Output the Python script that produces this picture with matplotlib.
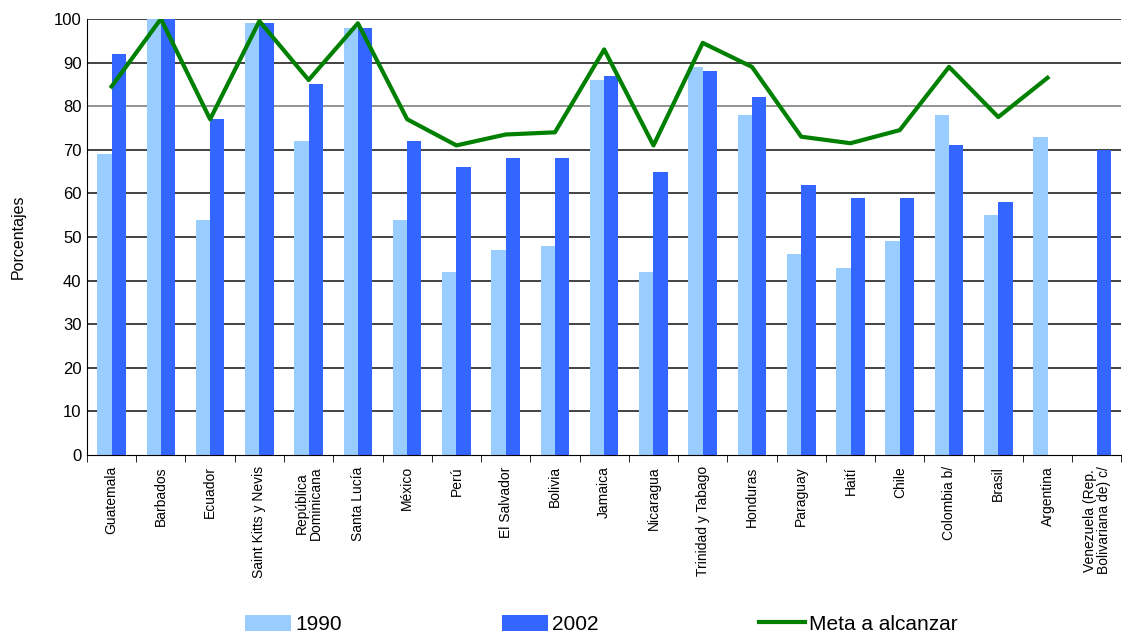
import matplotlib.pyplot as plt
import numpy as np

plt.rcParams['font.family'] = ['Liberation Sans', 'DejaVu Sans']

countries = ["Guatemala", "Barbados", "Ecuador", "Saint Kitts y Nevis",
             "República\nDominicana", "Santa Lucía", "México", "Perú",
             "El Salvador", "Bolivia", "Jamaica", "Nicaragua",
             "Trinidad y Tabago", "Honduras", "Paraguay", "Haití", "Chile",
             "Colombia b/", "Brasil", "Argentina",
             "Venezuela (Rep.\nBolivariana de) c/"]
v1990 = [69, 100, 54, 99, 72, 98, 54, 42, 47, 48, 86, 42, 89, 78, 46, 43, 49,
         78, 55, 73, np.nan]
v2002 = [92, 100, 77, 99, 85, 98, 72, 66, 68, 68, 87, 65, 88, 82, 62, 59, 59,
         71, 58, np.nan, 70]
meta = [84.5, 100, 77, 99.5, 86, 99, 77, 71, 73.5, 74, 93, 71, 94.5, 89, 73,
        71.5, 74.5, 89, 77.5, 86.5, np.nan]

x = np.arange(len(countries))
w = 0.29

fig = plt.figure(figsize=(11.22, 6.41), dpi=100)
ax = fig.add_axes([0.0775, 0.29, 0.922, 0.6805])

for yv in range(10, 101, 10):
    ax.axhline(yv, color='#808080' if yv == 80 else '#222222', lw=1.2, zorder=0)

b1 = ax.bar(x - w / 2, v1990, w, color='#99CCFF', label='1990', zorder=2)
b2 = ax.bar(x + w / 2, v2002, w, color='#3366FF', label='2002', zorder=2)
ln, = ax.plot(x, meta, color='#008000', lw=3, label='Meta a alcanzar', zorder=3)

ax.set_xlim(-0.5, len(countries) - 0.5)
ax.set_ylim(0, 100)
ax.set_yticks(range(0, 101, 10))
ax.tick_params(axis='y', labelsize=12, length=0, pad=4)
ax.set_xticks(x)
ax.set_xticklabels(countries, rotation=90, fontsize=10, linespacing=1.0)
ax.set_xticks(np.arange(-0.5, len(countries), 1), minor=True)
ax.tick_params(axis='x', which='major', length=0, pad=8)
ax.tick_params(axis='x', which='minor', length=5, color='black')
for s in ['top', 'right']:
    ax.spines[s].set_visible(False)
ax.spines['left'].set_color('black')
ax.spines['bottom'].set_color('black')
ax.set_ylabel('Porcentajes', fontsize=11.5)
ax.yaxis.set_label_coords(-0.059, 0.5)

fig.legend([b1, b2, ln], ['1990', '2002', 'Meta a alcanzar'],
           loc='lower center', bbox_to_anchor=(0.536, -0.018), ncol=3,
           frameon=False, fontsize=15, handlelength=2.2, handleheight=0.8,
           columnspacing=7.7, handletextpad=0.2)

fig.savefig('out.png', dpi=100)
